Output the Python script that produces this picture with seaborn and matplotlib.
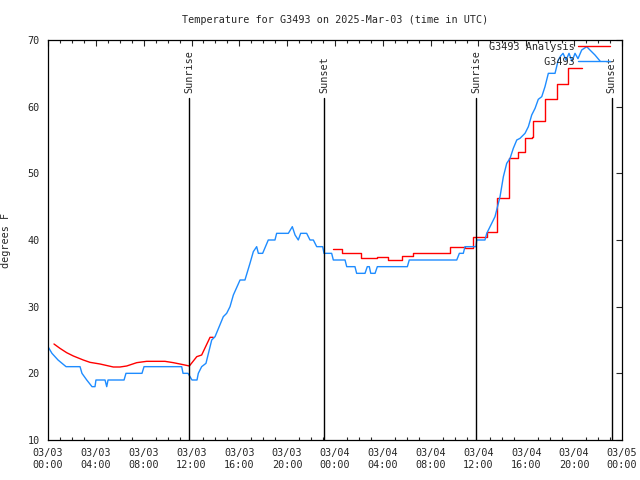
import numpy as np
import pandas as pd
import matplotlib
matplotlib.use("Agg")
import matplotlib.pyplot as plt
import seaborn as sns

# ---- data (hours since 03/03 00:00 UTC) ----
obs_hours = [0.00, 0.33, 0.84, 1.51, 2.68, 2.84, 3.24, 3.68, 3.93, 4.01, 4.77, 4.91, 5.02,
             6.36, 6.52, 7.86, 8.03, 11.18, 11.29, 11.71, 12.04, 12.46, 12.57, 12.85, 13.21,
             13.69, 13.97, 14.66, 14.94, 15.22, 15.50, 16.06, 16.47, 16.89, 17.17, 17.45,
             17.59, 17.95, 18.42, 18.98, 19.12, 20.10, 20.43, 20.66, 20.93, 21.13, 21.63,
             21.91, 22.19, 22.47, 22.97, 23.08, 23.72, 23.86, 24.84, 24.98, 25.67, 25.81,
             26.51, 26.70, 26.87, 26.99, 27.35, 27.54, 30.05, 30.21, 34.18, 34.40, 34.73,
             34.87, 35.79, 35.85, 36.54, 36.69, 37.38, 37.80, 38.08, 38.36, 38.64, 38.91,
             39.20, 39.47, 39.89, 40.17, 40.45, 40.73, 41.00, 41.29, 41.56, 41.84, 42.40,
             42.67, 42.87, 43.07, 43.32, 43.57, 43.82, 44.07, 44.32, 44.63, 45.05, 45.32,
             45.74, 46.16]
obs_temp = [24, 23, 22, 21, 21, 20, 19, 18, 18, 19, 19, 18, 19,
            19, 20, 20, 21, 21, 20, 20, 19, 19, 20, 21, 21.5,
            25, 25.5, 28.5, 29, 30, 31.75, 34, 34, 36.5, 38.25, 39,
            38, 38, 40, 40, 41, 41, 42, 40.75, 40, 41, 41,
            40, 40, 39, 39, 38, 38, 37, 37, 36, 36, 35,
            35, 36, 36, 35, 35, 36, 36, 37, 37, 38, 38,
            39, 39, 40, 40, 41, 43.5, 46.5, 49.5, 51.5, 52.25, 53.75,
            55, 55.25, 56, 57, 58.75, 59.75, 61.1, 61.5, 63, 65, 65,
            67, 67.6, 68, 67, 68, 66.8, 68, 67.2, 68.5, 69, 68.5,
            67.75, 66.85]

ana1_hours = [0.50, 1.00, 1.56, 2.12, 2.95, 3.51, 4.35, 5.46, 6.02, 6.58, 7.42, 8.25,
              9.78, 10.48, 11.31, 11.82, 12.44, 12.85, 13.55, 13.82]
ana1_temp = [24.4, 23.75, 23.1, 22.6, 22.0, 21.65, 21.4, 20.95, 20.95, 21.1, 21.6, 21.8,
             21.8, 21.6, 21.3, 21.1, 22.5, 22.75, 25.4, 25.4]

ana2_hours = [23.86, 24.56, 26.20, 27.48, 28.46, 29.57, 30.55, 33.62, 34.87, 35.57,
              36.68, 37.52, 38.58, 39.33, 39.89, 40.45, 40.59, 41.56, 42.54, 43.51, 44.63]
ana2_temp = [38.6, 38.0, 37.25, 37.4, 37.0, 37.6, 38.0, 38.9, 38.75, 40.4,
             41.25, 46.25, 52.25, 53.25, 55.25, 55.5, 57.85, 61.1, 63.35, 65.75, 65.75]

sun_hours = [11.80, 23.10, 35.79, 47.13]
sun_labels = ["Sunrise", "Sunset", "Sunrise", "Sunset"]

tick_hours = list(range(0, 49, 4))
tick_labels = ["03/03\n00:00", "03/03\n04:00", "03/03\n08:00", "03/03\n12:00",
               "03/03\n16:00", "03/03\n20:00", "03/04\n00:00", "03/04\n04:00",
               "03/04\n08:00", "03/04\n12:00", "03/04\n16:00", "03/04\n20:00",
               "03/05\n00:00"]
y_ticks = [10, 20, 30, 40, 50, 60, 70]

series_names = ["G3493 Analysis", "G3493"]
title = "Temperature for G3493 on 2025-Mar-03 (time in UTC)"

# ---- style ----
sns.set_style("white")
plt.rcParams['font.family'] = ['DejaVu Sans Mono']
FS = 7.3
RED = "#ff0000"
BLUE = "#1e8cff"
DPI = 100

# right-align legend labels (monospace font)
width = max(len(s) for s in series_names)
leg_labels = [s.rjust(width) for s in series_names]

fig = plt.figure(figsize=(6.4, 4.8), dpi=DPI)
ax = fig.add_axes([48/640, 1-440/480, 574/640, 400/480])

obs = pd.DataFrame({"hours": obs_hours, "temp": obs_temp})
a1 = pd.DataFrame({"hours": ana1_hours, "temp": ana1_temp})
a2 = pd.DataFrame({"hours": ana2_hours, "temp": ana2_temp})

sns.lineplot(data=a1, x="hours", y="temp", ax=ax, color=RED, lw=1, label=leg_labels[0])
sns.lineplot(data=a2, x="hours", y="temp", ax=ax, color=RED, lw=1, drawstyle="steps-post",
             label="_nolegend_")
sns.lineplot(data=obs, x="hours", y="temp", ax=ax, color=BLUE, lw=1, label=leg_labels[1])

ax.set_xlim(0, 48)
ax.set_ylim(10, 70)

for h, lab in zip(sun_hours, sun_labels):
    ax.axvline(h, ymin=0, ymax=(61.3-10)/60, color="black", lw=1)
    ax.text(h, 62.0, lab, rotation=90, ha="center", va="bottom", fontsize=FS)

ax.set_xticks(tick_hours)
ax.set_xticklabels(tick_labels, fontsize=FS)
ax.set_xticks(range(0, 49), minor=True)
ax.set_yticks(y_ticks)
ax.set_yticklabels([str(v) for v in y_ticks], fontsize=FS)
ax.tick_params(axis="both", which="major", direction="in", length=4, width=0.8,
               top=True, right=True, pad=6)
ax.tick_params(axis="x", which="minor", direction="in", length=2, width=0.8,
               top=True, bottom=True)
for s in ax.spines.values():
    s.set_color("black")
    s.set_linewidth(0.9)

ax.set_xlabel("")
ax.set_ylabel("degrees F", fontsize=FS, labelpad=12)
ax.set_title(title, fontsize=FS, pad=12)

ax.legend(loc="upper right", bbox_to_anchor=((610-48)/574, (440-42)/400),
          frameon=False, fontsize=FS, markerfirst=False, borderpad=0,
          borderaxespad=0, handlelength=3.2, handletextpad=0.3, labelspacing=0.45)

fig.savefig("out.png", dpi=DPI)
